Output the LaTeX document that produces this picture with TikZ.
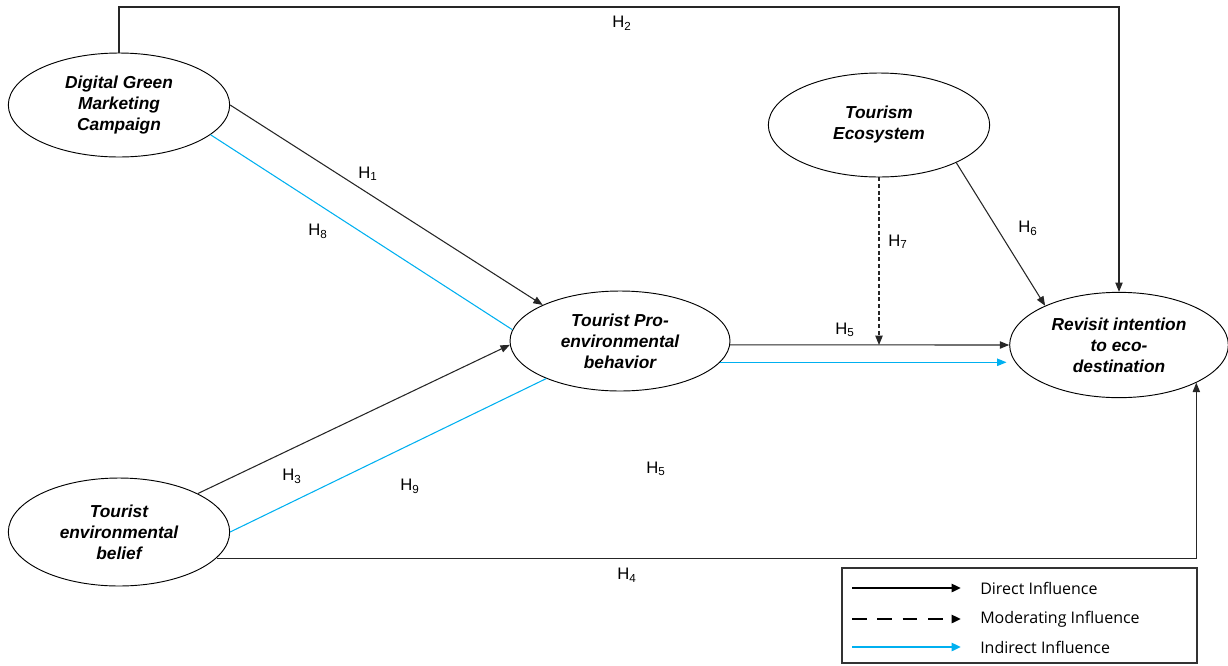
\documentclass[tikz,border=0pt]{standalone}
\usepackage{fontspec}
\setmainfont{Liberation Sans}
\newfontfamily\legendfont{Open Sans}
\usetikzlibrary{shapes.geometric,arrows.meta}
\definecolor{indblue}{RGB}{0,176,240}
\begin{document}
\begin{tikzpicture}[x=0.75pt,y=-0.75pt,
  construct/.style={ellipse,draw,line width=0.7pt,inner sep=0pt,minimum width=166pt,minimum height=78pt,
    align=center,font=\fontsize{13}{15.75}\selectfont\bfseries\itshape},
  conn/.style={line width=0.8pt,draw=black!85},
  arr/.style={-{Triangle[length=7pt,width=5.5pt]}},
  indirect/.style={line width=0.8pt,draw=indblue},
  hlab/.style={font=\fontsize{12.5}{14}\selectfont,inner sep=0pt},
  legline/.style={line width=2.2pt,-{Triangle[length=7pt,width=6pt]}},
  legtext/.style={anchor=west,inner sep=0pt,font=\legendfont\fontsize{12}{14}\selectfont}
]
\useasboundingbox (0,0) rectangle (1228,665);

% constructs
\node[construct] (dgmc) at (119,105) {Digital Green\\Marketing\\Campaign};
\node[construct] (te) at (879,125) {Tourism\\Ecosystem};
\node[construct,minimum width=165pt,minimum height=75pt] (tpb) at (620,341) {Tourist Pro-\\environmental\\behavior};
\node[construct,minimum width=164pt,minimum height=79pt] (ri) at (1119,345) {Revisit intention\\to eco-\\destination};
\node[construct,minimum height=81pt] (teb) at (119,532) {Tourist\\environmental\\belief};

\coordinate (topline) at (0,7);

% H2
\draw[conn,arr] (dgmc.north) -- (dgmc.north |- topline) -| (ri.north);
% H1 and H8
\draw[conn,arr] (dgmc.east) -- (tpb.155);
\draw[indirect] (dgmc.-18) -- (tpb.174);
% H3 and H9
\draw[conn,arr] (teb.26) -- (tpb.182);
\draw[indirect] (teb.east) -- (tpb.207);
% H4
\draw[conn,arr] (teb.-15) -| (ri.-26);
% H5
\draw[conn,arr] (tpb.-2) -- (ri.west);
\draw[indirect,-{Triangle[length=7pt,width=5.5pt]}] (tpb.-12) -- ([xshift=-2pt]tpb.-12 -| ri.west);
% H7
\draw[conn,arr,dash pattern=on 3pt off 2pt] (te.south) -- (te.south |- ri.west);
% H6
\draw[conn,arr] (te.-26) -- (ri.152);

% labels
\node[hlab] (h2) at (622,23) {H\textsubscript{2}};
\node[hlab] (h1) at (368,174) {H\textsubscript{1}};
\node[hlab] (h8) at (318,231) {H\textsubscript{8}};
\node[hlab] (h7) at (898,242) {H\textsubscript{7}};
\node[hlab] (h6) at (1028,228) {H\textsubscript{6}};
\node[hlab] (h5a) at (845,330) {H\textsubscript{5}};
\node[hlab] (h5b) at (656,469) {H\textsubscript{5}};
\node[hlab] (h3) at (292,476) {H\textsubscript{3}};
\node[hlab] (h9) at (410,486) {H\textsubscript{9}};
\node[hlab] (h4) at (627,575) {H\textsubscript{4}};

% legend
\draw[line width=0.9pt,draw=black!80] (842,568) rectangle (1197,663);
\coordinate (l1s) at (852,588); \coordinate (l1e) at (961,588);
\coordinate (l2s) at (852,619); \coordinate (l2e) at (961,619);
\coordinate (l3s) at (852,647); \coordinate (l3e) at (961,647);
\draw[legline] (l1s) -- (l1e);
\draw[legline,dash pattern=on 11pt off 8pt] (l2s) -- (l2e);
\draw[legline,draw=indblue,fill=indblue] (l3s) -- (l3e);
\node[legtext] (t1) at (980,588) {Direct Influence};
\node[legtext] (t2) at (980,619) {Moderating Influence};
\node[legtext] (t3) at (980,647) {Indirect Influence};
\end{tikzpicture}
\end{document}
